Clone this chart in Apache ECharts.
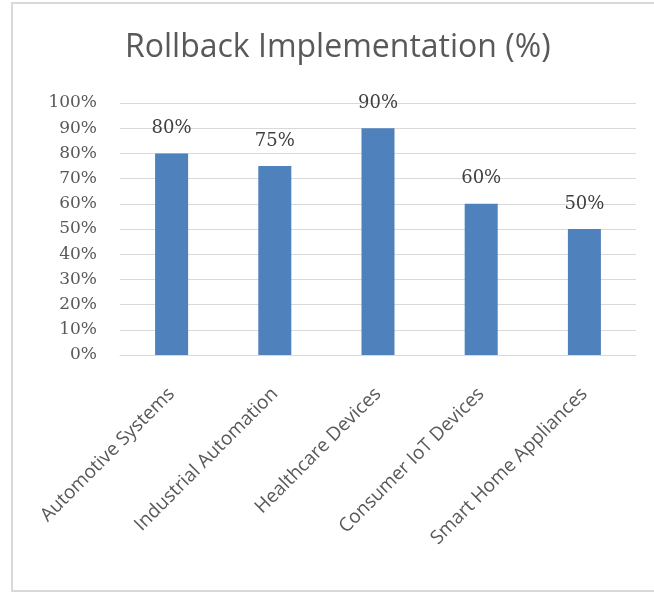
<!DOCTYPE html>
<html>
<head>
<meta charset="utf-8">
<script src="https://cdn.jsdelivr.net/npm/echarts@6/dist/echarts.min.js"></script>
<style>
html,body{margin:0;padding:0;background:#fff;}
#chart{width:654px;height:593px;}
</style>
</head>
<body>
<div id="chart"></div>
<script>
var categories = ["Automotive Systems", "Industrial Automation", "Healthcare Devices", "Consumer IoT Devices", "Smart Home Appliances"];
var values = [80, 75, 90, 60, 50];
var yTicks = [0, 10, 20, 30, 40, 50, 60, 70, 80, 90, 100];

var chart = echarts.init(document.getElementById('chart'), null, {renderer: 'canvas'});
var sans = '"Open Sans", "Noto Sans", sans-serif';
var serif = '"DejaVu Serif", "Liberation Serif", serif';
chart.setOption({
  backgroundColor: '#ffffff',
  animation: false,
  title: {
    text: 'Rollback Implementation (%)',
    left: 120,
    top: 27,
    textStyle: {fontFamily: sans, fontSize: 32, fontWeight: 'normal', color: '#595959'}
  },
  graphic: [{
    type: 'rect',
    shape: {x: 12, y: 3, width: 700, height: 588},
    style: {fill: 'none', stroke: '#D9D9D9', lineWidth: 2},
    silent: true
  }],
  grid: {left: 120, right: 18, top: 103, bottom: 238, containLabel: false},
  xAxis: {
    type: 'category',
    data: categories,
    axisLine: {show: true, lineStyle: {color: '#D9D9D9'}},
    axisTick: {show: false},
    axisLabel: {rotate: 45, interval: 0, margin: 36, fontFamily: sans, fontSize: 19, color: '#595959'}
  },
  yAxis: {
    type: 'value',
    min: yTicks[0],
    max: yTicks[yTicks.length - 1],
    interval: 10,
    axisLine: {show: false},
    axisTick: {show: false},
    splitLine: {lineStyle: {color: '#D9D9D9', width: 1}},
    axisLabel: {formatter: '{value}%', margin: 23, fontFamily: serif, fontSize: 17, color: '#595959'}
  },
  series: [{
    type: 'bar',
    data: values,
    barWidth: '32%',
    itemStyle: {color: '#4F81BD'},
    label: {
      show: true,
      position: 'top',
      distance: 16,
      formatter: '{c}%',
      fontFamily: serif,
      fontSize: 18,
      color: '#404040'
    }
  }]
});
</script>
</body>
</html>
